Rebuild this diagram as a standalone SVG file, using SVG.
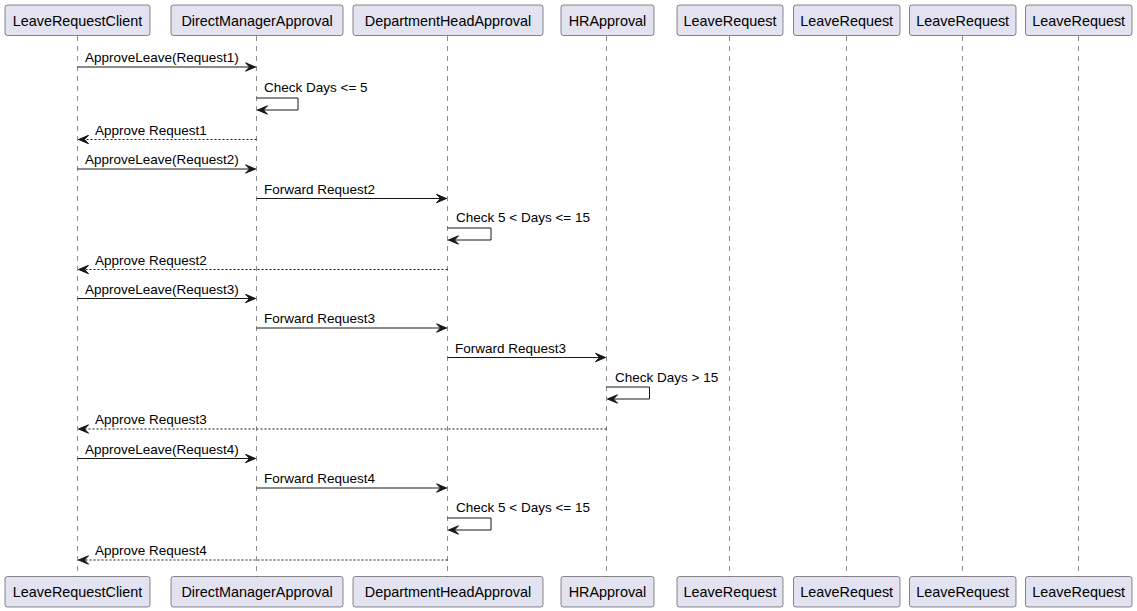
<svg xmlns="http://www.w3.org/2000/svg" width="1137" height="611" viewBox="0 0 1137 611">
<style>
.box{fill:#E2E2F0;stroke:#181818;stroke-width:0.5}
.pt{font-family:"Liberation Sans",Arial,sans-serif;font-size:14.4px;fill:#000;text-anchor:middle}
.life{stroke:#181818;stroke-width:0.5;stroke-dasharray:5,5;fill:none}
.msg{stroke:#181818;stroke-width:1;fill:none}
.ret{stroke:#181818;stroke-width:1;fill:none;stroke-dasharray:2,2}
.mt{font-family:"Liberation Sans",Arial,sans-serif;font-size:13.5px;fill:#000}
</style>
<defs>
<marker id="ah" viewBox="0 0 12 10" refX="11" refY="5" markerWidth="12" markerHeight="10" markerUnits="userSpaceOnUse" orient="auto">
<polygon points="1,0.8 11,5 1,9.2 5,5" fill="#181818" stroke="#181818" stroke-width="1" stroke-linejoin="miter"/>
</marker>
</defs>
<rect width="1137" height="611" fill="#fff"/>
<g id="lifelines">
<line class="life" x1="77.5" y1="36" x2="77.5" y2="577"/>
<line class="life" x1="256.5" y1="36" x2="256.5" y2="577"/>
<line class="life" x1="447.5" y1="36" x2="447.5" y2="577"/>
<line class="life" x1="606.5" y1="36" x2="606.5" y2="577"/>
<line class="life" x1="729.5" y1="36" x2="729.5" y2="577"/>
<line class="life" x1="846.5" y1="36" x2="846.5" y2="577"/>
<line class="life" x1="962.5" y1="36" x2="962.5" y2="577"/>
<line class="life" x1="1078.5" y1="36" x2="1078.5" y2="577"/>
</g>
<g id="LeaveRequestClient">
<rect class="box" x="5" y="5" width="145" height="30.5" rx="2.5"/><text class="pt" x="77.5" y="25.5">LeaveRequestClient</text>
<rect class="box" x="5" y="576.5" width="145" height="30.5" rx="2.5"/><text class="pt" x="77.5" y="597">LeaveRequestClient</text>
</g>
<g id="DirectManagerApproval">
<rect class="box" x="171" y="5" width="172" height="30.5" rx="2.5"/><text class="pt" x="257" y="25.5">DirectManagerApproval</text>
<rect class="box" x="171" y="576.5" width="172" height="30.5" rx="2.5"/><text class="pt" x="257" y="597">DirectManagerApproval</text>
</g>
<g id="DepartmentHeadApproval">
<rect class="box" x="353" y="5" width="190" height="30.5" rx="2.5"/><text class="pt" x="448" y="25.5">DepartmentHeadApproval</text>
<rect class="box" x="353" y="576.5" width="190" height="30.5" rx="2.5"/><text class="pt" x="448" y="597">DepartmentHeadApproval</text>
</g>
<g id="HRApproval">
<rect class="box" x="561" y="5" width="93" height="30.5" rx="2.5"/><text class="pt" x="607.5" y="25.5">HRApproval</text>
<rect class="box" x="561" y="576.5" width="93" height="30.5" rx="2.5"/><text class="pt" x="607.5" y="597">HRApproval</text>
</g>
<g id="LeaveRequest1">
<rect class="box" x="677" y="5" width="106" height="30.5" rx="2.5"/><text class="pt" x="730" y="25.5">LeaveRequest</text>
<rect class="box" x="677" y="576.5" width="106" height="30.5" rx="2.5"/><text class="pt" x="730" y="597">LeaveRequest</text>
</g>
<g id="LeaveRequest2">
<rect class="box" x="793.5" y="5" width="106.5" height="30.5" rx="2.5"/><text class="pt" x="846.7" y="25.5">LeaveRequest</text>
<rect class="box" x="793.5" y="576.5" width="106.5" height="30.5" rx="2.5"/><text class="pt" x="846.7" y="597">LeaveRequest</text>
</g>
<g id="LeaveRequest3">
<rect class="box" x="909.5" y="5" width="106.5" height="30.5" rx="2.5"/><text class="pt" x="962.7" y="25.5">LeaveRequest</text>
<rect class="box" x="909.5" y="576.5" width="106.5" height="30.5" rx="2.5"/><text class="pt" x="962.7" y="597">LeaveRequest</text>
</g>
<g id="LeaveRequest4">
<rect class="box" x="1025.5" y="5" width="106.5" height="30.5" rx="2.5"/><text class="pt" x="1078.7" y="25.5">LeaveRequest</text>
<rect class="box" x="1025.5" y="576.5" width="106.5" height="30.5" rx="2.5"/><text class="pt" x="1078.7" y="597">LeaveRequest</text>
</g>
<g id="connectors">
<line class="msg" x1="77.5" y1="67" x2="255.5" y2="67" marker-end="url(#ah)"/>
<text class="mt" x="85" y="62">ApproveLeave(Request1)</text>
<polyline class="msg" points="256.5,98 298,98 298,110 257.5,110" marker-end="url(#ah)"/>
<text class="mt" x="264" y="92">Check Days &lt;= 5</text>
<line class="ret" x1="256.5" y1="139.5" x2="78.5" y2="139.5" marker-end="url(#ah)"/>
<text class="mt" x="95" y="134.5">Approve Request1</text>
<line class="msg" x1="77.5" y1="169" x2="255.5" y2="169" marker-end="url(#ah)"/>
<text class="mt" x="85" y="164">ApproveLeave(Request2)</text>
<line class="msg" x1="256.5" y1="198.5" x2="446.5" y2="198.5" marker-end="url(#ah)"/>
<text class="mt" x="264" y="193.5">Forward Request2</text>
<polyline class="msg" points="447.5,228 491,228 491,240 448.5,240" marker-end="url(#ah)"/>
<text class="mt" x="456" y="222">Check 5 &lt; Days &lt;= 15</text>
<line class="ret" x1="447.5" y1="269.5" x2="78.5" y2="269.5" marker-end="url(#ah)"/>
<text class="mt" x="95" y="264.5">Approve Request2</text>
<line class="msg" x1="77.5" y1="298.5" x2="255.5" y2="298.5" marker-end="url(#ah)"/>
<text class="mt" x="85" y="293.5">ApproveLeave(Request3)</text>
<line class="msg" x1="256.5" y1="328" x2="446.5" y2="328" marker-end="url(#ah)"/>
<text class="mt" x="264" y="323">Forward Request3</text>
<line class="msg" x1="447.5" y1="357.5" x2="605.5" y2="357.5" marker-end="url(#ah)"/>
<text class="mt" x="455" y="352.5">Forward Request3</text>
<polyline class="msg" points="606.5,387 649.5,387 649.5,399 607.5,399" marker-end="url(#ah)"/>
<text class="mt" x="615" y="381.5">Check Days &gt; 15</text>
<line class="ret" x1="606.5" y1="429" x2="78.5" y2="429" marker-end="url(#ah)"/>
<text class="mt" x="95" y="424">Approve Request3</text>
<line class="msg" x1="77.5" y1="458.5" x2="255.5" y2="458.5" marker-end="url(#ah)"/>
<text class="mt" x="85" y="453.5">ApproveLeave(Request4)</text>
<line class="msg" x1="256.5" y1="488" x2="446.5" y2="488" marker-end="url(#ah)"/>
<text class="mt" x="264" y="483">Forward Request4</text>
<polyline class="msg" points="447.5,518 491,518 491,530 448.5,530" marker-end="url(#ah)"/>
<text class="mt" x="456" y="512">Check 5 &lt; Days &lt;= 15</text>
<line class="ret" x1="447.5" y1="560" x2="78.5" y2="560" marker-end="url(#ah)"/>
<text class="mt" x="95" y="555">Approve Request4</text>
</g>
</svg>
